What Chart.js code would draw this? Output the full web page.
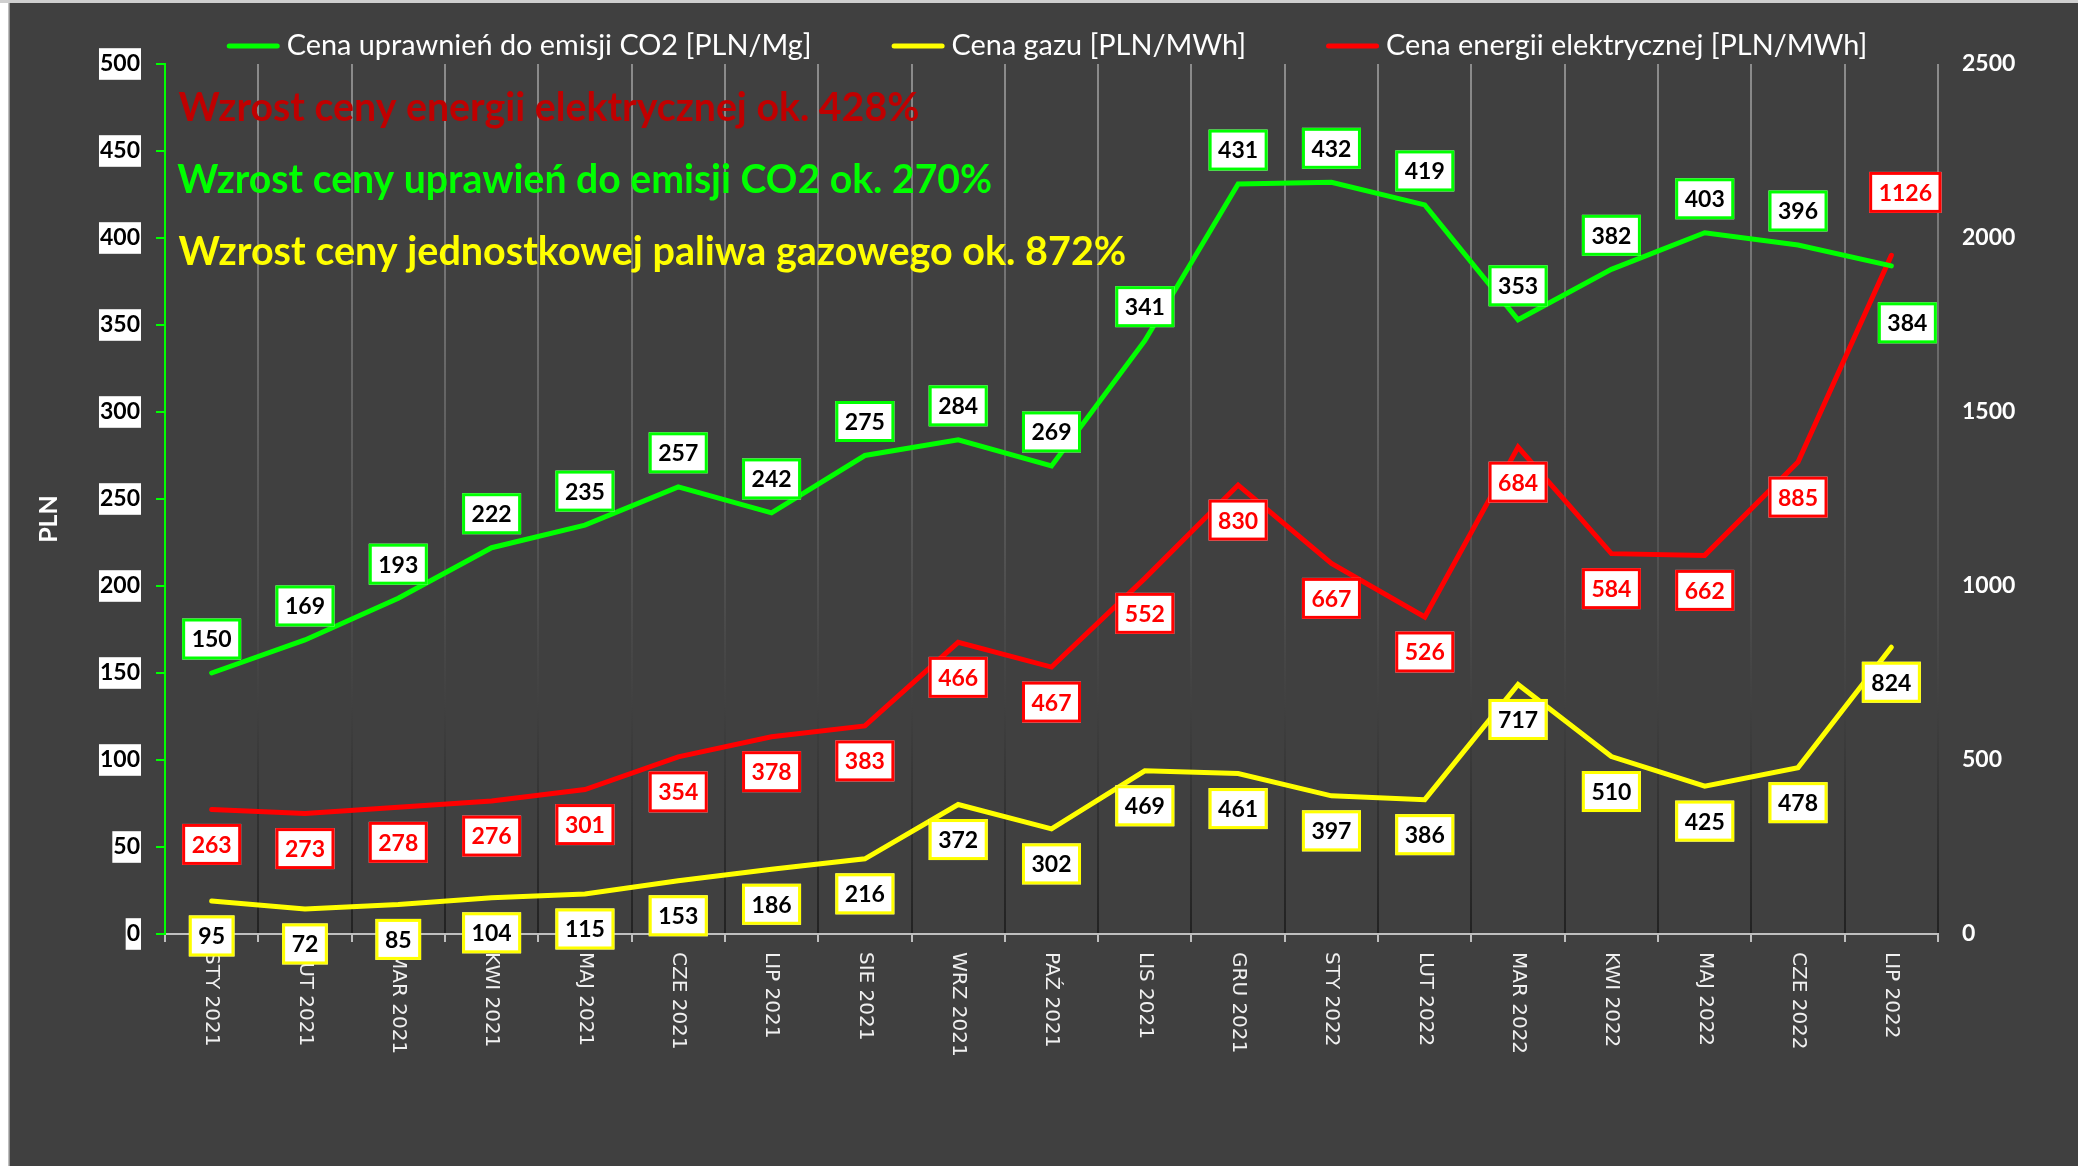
<!DOCTYPE html>
<html>
<head>
<meta charset="utf-8">
<script src="https://cdn.jsdelivr.net/npm/chart.js"></script>
<style>
html,body{margin:0;padding:0;background:#ffffff;overflow:hidden}
canvas{display:block}
</style>
</head>
<body>
<canvas id="c" width="2078" height="1166" style="width:2078px;height:1166px"></canvas>
<script>
// ---------------- DATA ----------------
const categories = ['STY 2021','LUT 2021','MAR 2021','KWI 2021','MAJ 2021','CZE 2021','LIP 2021','SIE 2021','WRZ 2021','PAŹ 2021','LIS 2021','GRU 2021','STY 2022','LUT 2022','MAR 2022','KWI 2022','MAJ 2022','CZE 2022','LIP 2022'];
const co2Values = [150,169,193,222,235,257,242,275,284,269,341,431,432,419,353,382,403,396,384];
const gasValues = [95,72,85,104,115,153,186,216,372,302,469,461,397,386,717,510,425,478,824];
// plotted position of the electricity line
const electricityValues = [358,346,364,382,415,509,567,598,838,767,1022,1290,1065,911,1399,1093,1088,1356,1950];
// values printed in the electricity labels
const electricityLabels = [263,273,278,276,301,354,378,383,466,467,552,830,667,526,684,584,662,885,1126];
const seriesNames = ['Cena uprawnień do emisji CO2 [PLN/Mg]','Cena gazu [PLN/MWh]','Cena energii elektrycznej [PLN/MWh]'];
const annotationTexts = ['Wzrost ceny energii elektrycznej ok. 428%','Wzrost ceny uprawień do emisji CO2 ok. 270%','Wzrost ceny jednostkowej paliwa gazowego ok. 872%'];
const yAxisTitle = 'PLN';
const leftAxisRange = [0, 500, 50];
const rightAxisRange = [0, 2500, 500];

// ---------------- STYLE ----------------
const W = 2078, H = 1166;
const FONT = 'Lato, "Open Sans", "DejaVu Sans", sans-serif';
const colors = ['#00ff00', '#ffff00', '#ff0000'];
const labelStyles = [
  {text: '#000000', dy: -34, lastDx: 16, lastDy: 57},
  {text: '#000000', dy: 35, lastDx: 0, lastDy: 35},
  {text: '#ff0000', dy: 35, lastDx: 14, lastDy: -63}
];
const labelTexts = [co2Values, gasValues, electricityLabels];
const annotationStyles = [
  {color: '#c00000', x: 178.6, baseline: 121, width: 741},
  {color: '#00ff00', x: 177.2, baseline: 192.5, width: 815},
  {color: '#ffff00', x: 178.6, baseline: 265, width: 948}
];

function gridGradient(ctx) {
  const chart = ctx.chart;
  const a = chart.chartArea;
  if (!a) return '#606060';
  const g = chart.ctx.createLinearGradient(0, a.top, 0, a.bottom);
  g.addColorStop(0, '#8c8c8c');
  g.addColorStop(0.74, '#404040');
  g.addColorStop(1, '#222222');
  return g;
}

function fitSize(ctx, text, weight, target) {
  ctx.font = weight + ' 100px ' + FONT;
  return 100 * target / ctx.measureText(text).width;
}

const framePlugin = {
  id: 'frame',
  beforeDraw(chart) {
    const c = chart.ctx;
    c.save();
    c.fillStyle = '#ffffff'; c.fillRect(0, 0, W, H);
    c.fillStyle = '#cfcfcf'; c.fillRect(0, 0, W, 3);
    c.fillStyle = '#bdbdbd'; c.fillRect(8, 3, 1.5, H);
    c.fillStyle = '#404040'; c.fillRect(9.5, 3, W, H);
    c.restore();
  }
};

const overlayPlugin = {
  id: 'overlay',
  beforeDatasetsDraw(chart) {
    const c = chart.ctx;
    c.save();
    annotationTexts.forEach((t, i) => {
      const s = annotationStyles[i];
      const size = fitSize(c, t, 'bold', s.width);
      c.font = 'bold ' + size.toFixed(2) + 'px ' + FONT;
      c.fillStyle = s.color;
      c.textAlign = 'left';
      c.textBaseline = 'alphabetic';
      c.fillText(t, s.x, s.baseline);
    });
    c.restore();
  },
  afterDraw(chart) {
    const c = chart.ctx;
    const area = chart.chartArea;
    c.save();
    // x category labels, reading top to bottom
    const xs = chart.scales.x;
    c.font = '20px "DejaVu Sans", sans-serif';
    c.fillStyle = '#f0f0f0';
    chart.data.labels.forEach((lab, i) => {
      const x = xs.getPixelForValue(i);
      c.save();
      c.translate(x, area.bottom + 18);
      c.rotate(Math.PI / 2);
      c.textAlign = 'left';
      c.textBaseline = 'middle';
      c.fillText(lab, 0, 0);
      c.restore();
    });

    // y axis title
    c.save();
    c.font = 'bold 25px ' + FONT;
    c.fillStyle = '#ffffff';
    c.translate(49, 519);
    c.rotate(-Math.PI / 2);
    c.textAlign = 'center';
    c.textBaseline = 'middle';
    c.fillText(yAxisTitle, 0, 0);
    c.restore();

    // legend
    const legSize = fitSize(c, chart.data.datasets[0].label, 'normal', 525);
    c.font = legSize.toFixed(2) + 'px ' + FONT;
    const lineLen = 53, gap = 7, itemGap = 80;
    const widths = chart.data.datasets.map(d => c.measureText(d.label).width);
    const total = widths.reduce((a, w) => a + lineLen + gap + w, 0) + itemGap * (widths.length - 1);
    let x = 1047 - total / 2;
    chart.data.datasets.forEach((d, i) => {
      c.strokeStyle = d.borderColor;
      c.lineWidth = 5;
      c.lineCap = 'round';
      c.beginPath();
      c.moveTo(x + 2.5, 46);
      c.lineTo(x + lineLen - 2.5, 46);
      c.stroke();
      c.fillStyle = '#ffffff';
      c.textAlign = 'left';
      c.textBaseline = 'alphabetic';
      c.fillText(d.label, x + lineLen + gap, 55);
      x += lineLen + gap + widths[i] + itemGap;
    });

    // data labels
    c.font = 'bold 23px ' + FONT;
    c.textAlign = 'center';
    c.textBaseline = 'middle';
    [2, 1, 0].forEach(di => {
      const meta = chart.getDatasetMeta(di);
      const st = labelStyles[di];
      const texts = labelTexts[di];
      meta.data.forEach((pt, j) => {
        const last = j === meta.data.length - 1;
        const cx = pt.x + (last ? st.lastDx : 0);
        const cy = pt.y + (last ? st.lastDy : st.dy);
        const txt = String(texts[j]);
        const tw = c.measureText(txt).width;
        const bw = tw + 19, bh = 41;
        c.fillStyle = '#ffffff';
        c.fillRect(cx - bw / 2, cy - bh / 2, bw, bh);
        c.strokeStyle = colors[di];
        c.lineWidth = 3;
        c.strokeRect(cx - bw / 2 + 1.5, cy - bh / 2 + 1.5, bw - 3, bh - 3);
        c.fillStyle = st.text;
        c.fillText(txt, cx, cy + 1);
      });
    });
    c.restore();
  }
};

const tickFont = {family: FONT, weight: 'bold', size: 23};
const plainNumber = v => String(v);

new Chart(document.getElementById('c'), {
  type: 'line',
  data: {
    labels: categories,
    datasets: [
      {label: seriesNames[0], data: co2Values, yAxisID: 'yLeft', borderColor: colors[0], backgroundColor: colors[0]},
      {label: seriesNames[1], data: gasValues, yAxisID: 'yRight', borderColor: colors[1], backgroundColor: colors[1]},
      {label: seriesNames[2], data: electricityValues, yAxisID: 'yRight', borderColor: colors[2], backgroundColor: colors[2]}
    ]
  },
  options: {
    responsive: false,
    animation: false,
    devicePixelRatio: 1,
    events: [],
    layout: {padding: {top: 64, left: 0, right: 0, bottom: 0}},
    elements: {
      point: {radius: 0, hoverRadius: 0},
      line: {borderWidth: 5, tension: 0, borderJoinStyle: 'miter', borderCapStyle: 'round', fill: false}
    },
    plugins: {legend: {display: false}, tooltip: {enabled: false}, title: {display: false}},
    scales: {
      x: {
        type: 'category',
        offset: true,
        grid: {offset: true, color: gridGradient, lineWidth: 2, tickColor: '#bfbfbf', tickLength: 8, drawTicks: true},
        border: {color: '#bfbfbf', width: 2},
        ticks: {display: false},
        afterFit: s => { s.height = 232; }
      },
      yLeft: {
        position: 'left',
        min: leftAxisRange[0], max: leftAxisRange[1],
        ticks: {stepSize: leftAxisRange[2], color: '#000000', font: tickFont, padding: 16, callback: plainNumber,
                showLabelBackdrop: true, backdropColor: '#ffffff', backdropPadding: {x: 1, y: 2}},
        grid: {drawOnChartArea: false, color: '#00ff00', tickLength: 9, lineWidth: 2},
        border: {color: '#00ff00', width: 2},
        afterFit: s => { s.width = 165; }
      },
      yRight: {
        position: 'right',
        min: rightAxisRange[0], max: rightAxisRange[1],
        ticks: {stepSize: rightAxisRange[2], color: '#ffffff', font: tickFont, padding: 24, callback: plainNumber},
        grid: {drawOnChartArea: false, drawTicks: false},
        border: {display: false},
        afterFit: s => { s.width = 140; }
      }
    }
  },
  plugins: [framePlugin, overlayPlugin]
});
</script>
</body>
</html>
